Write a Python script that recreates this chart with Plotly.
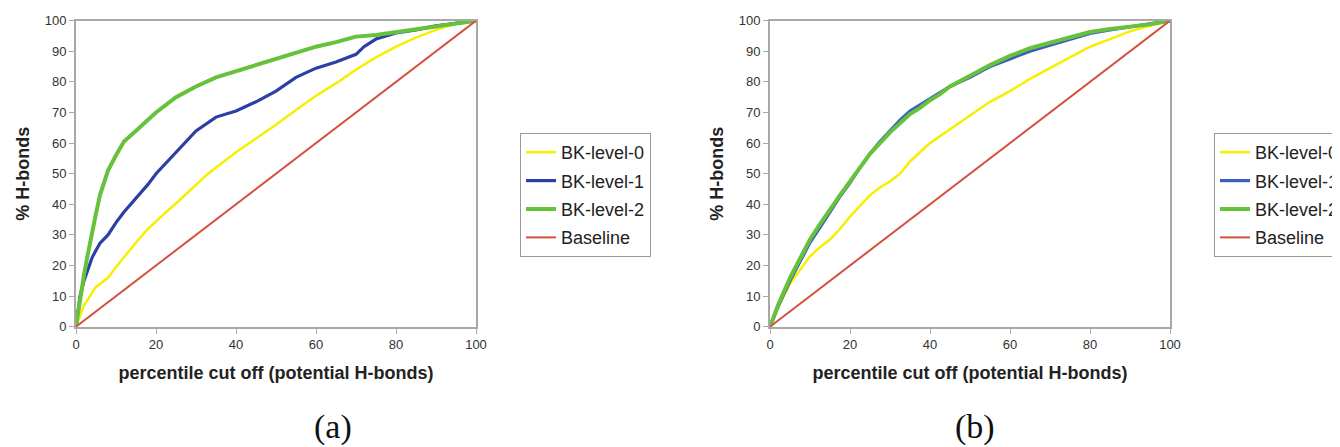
import plotly.graph_objects as go

# ---------------- data: panel (a) ----------------
a_x0 = [0, 2, 5, 8, 10, 13, 15, 18, 20, 23, 26, 30, 33, 36, 40, 45, 50, 55, 60, 65, 70, 75, 80, 85, 90, 95, 100]
a_y0 = [0, 7, 13, 16, 19.5, 24.5, 27.5, 32, 34.5, 38, 41.5, 46.5, 50, 53, 57, 61.5, 66, 70.8, 75.5, 79.5, 84, 88, 91.5, 94.5, 97, 99, 100]

a_x1 = [0, 1, 2, 3, 4, 5, 6, 8, 10, 12, 15, 18, 20, 25, 30, 35, 40, 45, 50, 55, 60, 65, 70, 72, 75, 80, 85, 90, 95, 100]
a_y1 = [0, 10, 15, 19, 22.5, 25, 27.3, 30, 34, 37.5, 42, 46.5, 50, 57, 64, 68.5, 70.5, 73.5, 77, 81.5, 84.5, 86.5, 89, 91.5, 94, 96, 97, 98.3, 99.2, 100]

a_x2 = [0, 1, 2, 3, 4, 5, 6, 7, 8, 10, 12, 15, 18, 20, 25, 30, 35, 40, 45, 50, 55, 60, 65, 70, 75, 80, 85, 90, 95, 100]
a_y2 = [0, 9, 17, 24, 31, 37, 43, 47, 51, 56, 60.5, 64, 67.5, 70, 75, 78.5, 81.5, 83.5, 85.5, 87.5, 89.5, 91.5, 93, 94.8, 95.3, 96.3, 97.3, 98.3, 99.2, 100]

# ---------------- data: panel (b) ----------------
b_x0 = [0, 2.5, 5, 7.5, 10, 12.5, 15, 17.5, 20, 22.5, 25, 27.5, 30, 32.5, 35, 37.5, 40, 45, 50, 55, 60, 65, 70, 75, 80, 85, 90, 95, 100]
b_y0 = [0, 7.6, 14, 18.5, 23, 26, 28.5, 32, 36, 39.5, 43, 45.5, 47.5, 50, 54, 57, 60, 64.5, 69, 73.5, 77, 81, 84.5, 88, 91.5, 94, 96.5, 98.3, 100]

b_x12 = [0, 2, 5, 7.5, 10, 12.5, 15, 17.5, 20, 22.5, 25, 27.5, 30, 32.5, 35, 37.5, 40, 42.5, 45, 50, 55, 60, 65, 70, 75, 80, 85, 90, 95, 100]
b_y1 = [0, 6.5, 15, 21.5, 27.5, 32.5, 37.5, 42.5, 47, 52, 56.5, 60.5, 64, 67.5, 70.5, 72.5, 74.5, 76.5, 78.5, 81.5, 85, 87.5, 90, 92, 94, 95.8, 97, 98, 98.8, 100]
b_y2 = [0, 7, 16, 22.5, 28.5, 33.5, 38.5, 43, 47.5, 52, 56.5, 60, 63.5, 66.5, 69.5, 71.5, 74, 76, 78.5, 82, 85.5, 88.5, 91, 92.8, 94.5, 96.3, 97.3, 98, 98.8, 100]

base_x = [0, 100]
base_y = [0, 100]

names = ["BK-level-0", "BK-level-1", "BK-level-2", "Baseline"]
ticks = [0, 10, 20, 30, 40, 50, 60, 70, 80, 90, 100]
xticks = [0, 20, 40, 60, 80, 100]

YEL = "#F7EF00"
BLUE_A = "#2B3FA6"
BLUE_B = "#3A5EC2"
GREEN = "#66C23A"
RED = "#D4503E"

# page has an 8px body margin; the figure fills the rest of the 1340x447 window
OFF = 8
W, H = 1340 - OFF, 447 - OFF


def px(sx):
    return (sx - OFF) / W


def py(sy):
    return 1 - (sy - OFF) / H


fig = go.Figure()

panels = [
    ("x", "y", "legend", [(a_x0, a_y0, YEL, 2.5), (a_x1, a_y1, BLUE_A, 3.2), (a_x2, a_y2, GREEN, 4), (base_x, base_y, RED, 2)]),
    ("x2", "y2", "legend2", [(b_x0, b_y0, YEL, 2.5), (b_x12, b_y1, BLUE_B, 3.2), (b_x12, b_y2, GREEN, 4), (base_x, base_y, RED, 2)]),
]
for xa, ya, leg, series in panels:
    for name, (xs, ys, col, w) in zip(names, series):
        fig.add_trace(go.Scatter(
            x=xs, y=ys, mode="lines", name=name, xaxis=xa, yaxis=ya,
            line=dict(color=col, width=w), legend=leg, legendgroup=leg + name,
        ))

axis_common = dict(
    range=[0, 100], showgrid=False, zeroline=False, showline=True, mirror=True,
    linecolor="#A8A8A8", linewidth=2, ticks="outside", ticklen=5, tickcolor="#A8A8A8",
    tickfont=dict(family="Arial, Liberation Sans", size=13, color="#333333"),
    fixedrange=True,
)
title_font = dict(family="Arial, Liberation Sans", size=18, color="#222222")
legend_common = dict(
    xanchor="left", yanchor="top", bordercolor="#9A9A9A", borderwidth=1, bgcolor="white",
    tracegroupgap=2, font=dict(family="Arial, Liberation Sans", size=18, color="#222222"),
)
cap_font = dict(family="Liberation Serif, Times New Roman", size=34, color="#111111")

ydom = [py(326.7), py(20.7)]
fig.update_layout(
    width=W, height=H,
    margin=dict(l=0, r=0, t=0, b=0, autoexpand=False),
    paper_bgcolor="white", plot_bgcolor="white",
    showlegend=True,
    xaxis=dict(axis_common, domain=[px(76), px(476)], anchor="y", tickvals=xticks,
               title=dict(text="<b>percentile cut off (potential H-bonds)</b>", font=title_font, standoff=15)),
    yaxis=dict(axis_common, domain=ydom, anchor="x", tickvals=ticks,
               title=dict(text="<b>% H-bonds</b>", font=title_font, standoff=10)),
    xaxis2=dict(axis_common, domain=[px(770), px(1170)], anchor="y2", tickvals=xticks,
                title=dict(text="<b>percentile cut off (potential H-bonds)</b>", font=title_font, standoff=15)),
    yaxis2=dict(axis_common, domain=ydom, anchor="x2", tickvals=ticks,
                title=dict(text="<b>% H-bonds</b>", font=title_font, standoff=10)),
    legend=dict(legend_common, x=px(520), y=py(133)),
    legend2=dict(legend_common, x=px(1214), y=py(133)),
    annotations=[
        dict(text="(a)", x=px(333), y=py(427), xref="paper", yref="paper", xanchor="center",
             yanchor="middle", showarrow=False, font=cap_font),
        dict(text="(b)", x=px(975), y=py(427), xref="paper", yref="paper", xanchor="center",
             yanchor="middle", showarrow=False, font=cap_font),
    ],
)

fig.write_html("out.html")
